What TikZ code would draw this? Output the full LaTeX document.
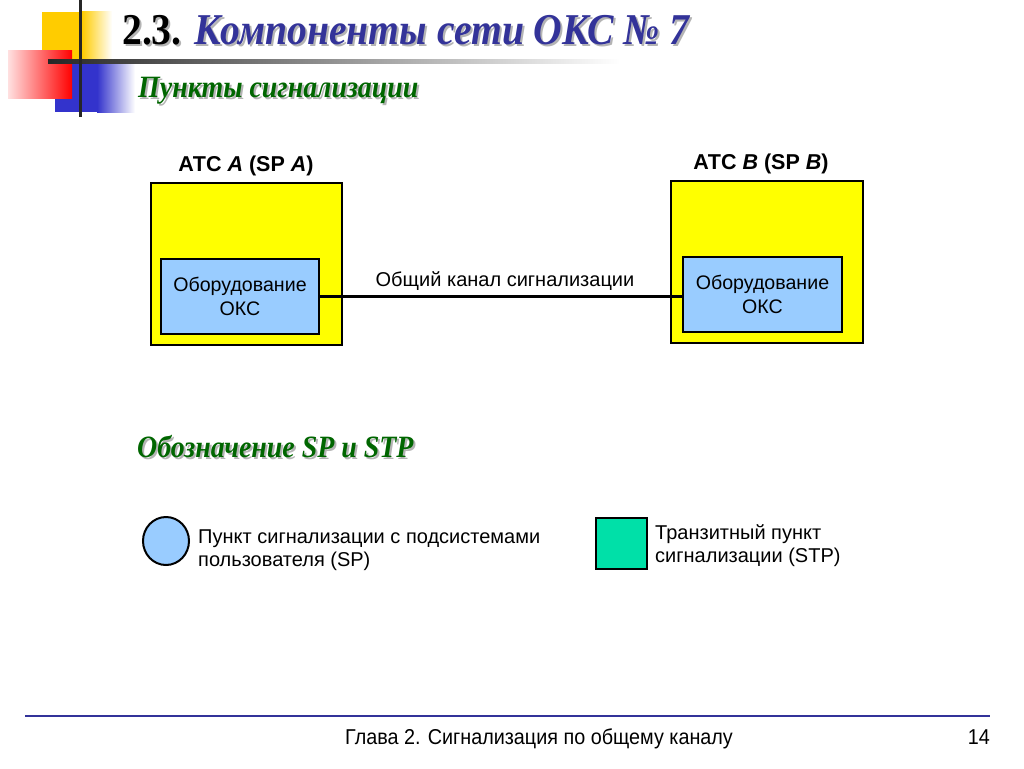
\documentclass[tikz,border=0pt]{standalone}
\usepackage{fontspec}
\usepackage{graphicx}
\setmainfont{Liberation Sans}
\newfontfamily\serifT{Liberation Serif}
\usetikzlibrary{shapes.geometric}
\definecolor{titleblue}{HTML}{333399}
\definecolor{hgreen}{HTML}{006600}
\definecolor{boxyellow}{HTML}{FFFF00}
\definecolor{okslblue}{HTML}{99CCFF}
\definecolor{stpgreen}{HTML}{00E0A8}
\definecolor{decoyellow}{HTML}{FFCC00}
\definecolor{decored}{HTML}{FF0000}
\definecolor{decoblue}{HTML}{3333CC}
\definecolor{footblue}{HTML}{333399}
\definecolor{shadowgray}{HTML}{B4B4B4}
\newcommand{\narrowT}[1]{\scalebox{0.9}[1]{#1}}
\begin{document}
\begin{tikzpicture}[x=1pt,y=-1pt,
  body/.style={font=\fontsize{20}{23}\selectfont, inner sep=0pt},
  lab/.style={font=\bfseries\fontsize{21.5}{23}\selectfont, inner sep=0pt, anchor=base},
  outerbox/.style={draw=black, line width=2pt, fill=boxyellow, anchor=north west, inner sep=0pt},
  oksbox/.style={draw=black, line width=2pt, fill=okslblue, anchor=north west, inner sep=0pt, align=center, font=\fontsize{19.6}{24}\selectfont},
  titlefont/.style={font=\serifT\bfseries\fontsize{44}{44}\selectfont, inner sep=0pt, anchor=base west},
  headfont/.style={font=\serifT\bfseries\itshape\fontsize{31}{31}\selectfont, inner sep=0pt, anchor=base west},
  symline/.style={draw=black, line width=2pt, inner sep=0pt}
]
\useasboundingbox (0,0) rectangle (1024,768);
\fill[white] (0,0) rectangle (1024,768);
% decoration
\fill[decoyellow] (42,12) rectangle (82,61);
\shade[left color=decoyellow, right color=white] (82,12) rectangle (112,61);
\fill[decoblue] (55,63) rectangle (97,112);
\shade[left color=decoblue, right color=white] (97,63) rectangle (135,112);
\shade[left color=decored!12, right color=decored] (8,51) rectangle (72,98);
\shade[left color=black!85, right color=white] (48,59) rectangle (620,63);
\fill[black!85] (79,0) rectangle (82,117);
% title
\node[titlefont, text=shadowgray] (titleS) at (124,47) {\narrowT{2.3. \itshape Компоненты сети ОКС № 7}};
\node[titlefont] (title) at (122,45) {\narrowT{2.3. \textcolor{titleblue}{\itshape Компоненты сети ОКС № 7}}};
\node[headfont, text=shadowgray] (subS) at (140,99) {\narrowT{Пункты сигнализации}};
\node[headfont, text=hgreen] (sub) at (138,97) {\narrowT{Пункты сигнализации}};
% exchanges
\node[lab] (labA) at (246,171) {АТС \textit{A} (SP \textit{A})};
\node[lab] (labB) at (761,169) {АТС \textit{B} (SP \textit{B})};
\node[outerbox, minimum width=191pt, minimum height=162pt] (atsA) at (150,182) {};
\node[oksbox, minimum width=158pt, minimum height=75pt] (oksA) at (160,258) {Оборудование\\ОКС};
\node[outerbox, minimum width=192pt, minimum height=162pt] (atsB) at (670,180) {};
\node[oksbox, minimum width=159pt, minimum height=75pt] (oksB) at (682,256) {Оборудование\\ОКС};
\draw[line width=3pt] (oksA.east) -- (oksA.east -| oksB.west);
\node[body, anchor=base] (chan) at (505,286) {Общий канал сигнализации};
% legend
\node[headfont, text=shadowgray] (legHS) at (139,459) {\narrowT{Обозначение SP и STP}};
\node[headfont, text=hgreen] (legH) at (137,457) {\narrowT{Обозначение SP и STP}};
\node[symline, fill=okslblue, ellipse, minimum width=46pt, minimum height=48pt] (spSym) at (166,541) {};
\node[body, anchor=base west, align=left] (spTxt) at (198,566) {Пункт сигнализации с подсистемами\\пользователя (SP)};
\node[symline, fill=stpgreen, anchor=north west, minimum width=51pt, minimum height=51pt] (stpSym) at (595,517) {};
\node[body, anchor=base west, align=left] (stpTxt) at (655,562) {Транзитный пункт\\сигнализации (STP)};
% footer
\coordinate (fl) at (25,716);
\coordinate (fr) at (990,716);
\draw[footblue, line width=1.5pt] (fl) -- (fr);
\node[inner sep=0pt, anchor=base, font=\fontsize{21.5}{22}\selectfont] (foot) at (539,744) {\scalebox{0.92}[1]{Глава 2. Сигнализация по общему каналу}};
\node[inner sep=0pt, anchor=base east, font=\fontsize{21.5}{22}\selectfont] (page) at (990,744) {\scalebox{0.92}[1]{14}};
\end{tikzpicture}
\end{document}
